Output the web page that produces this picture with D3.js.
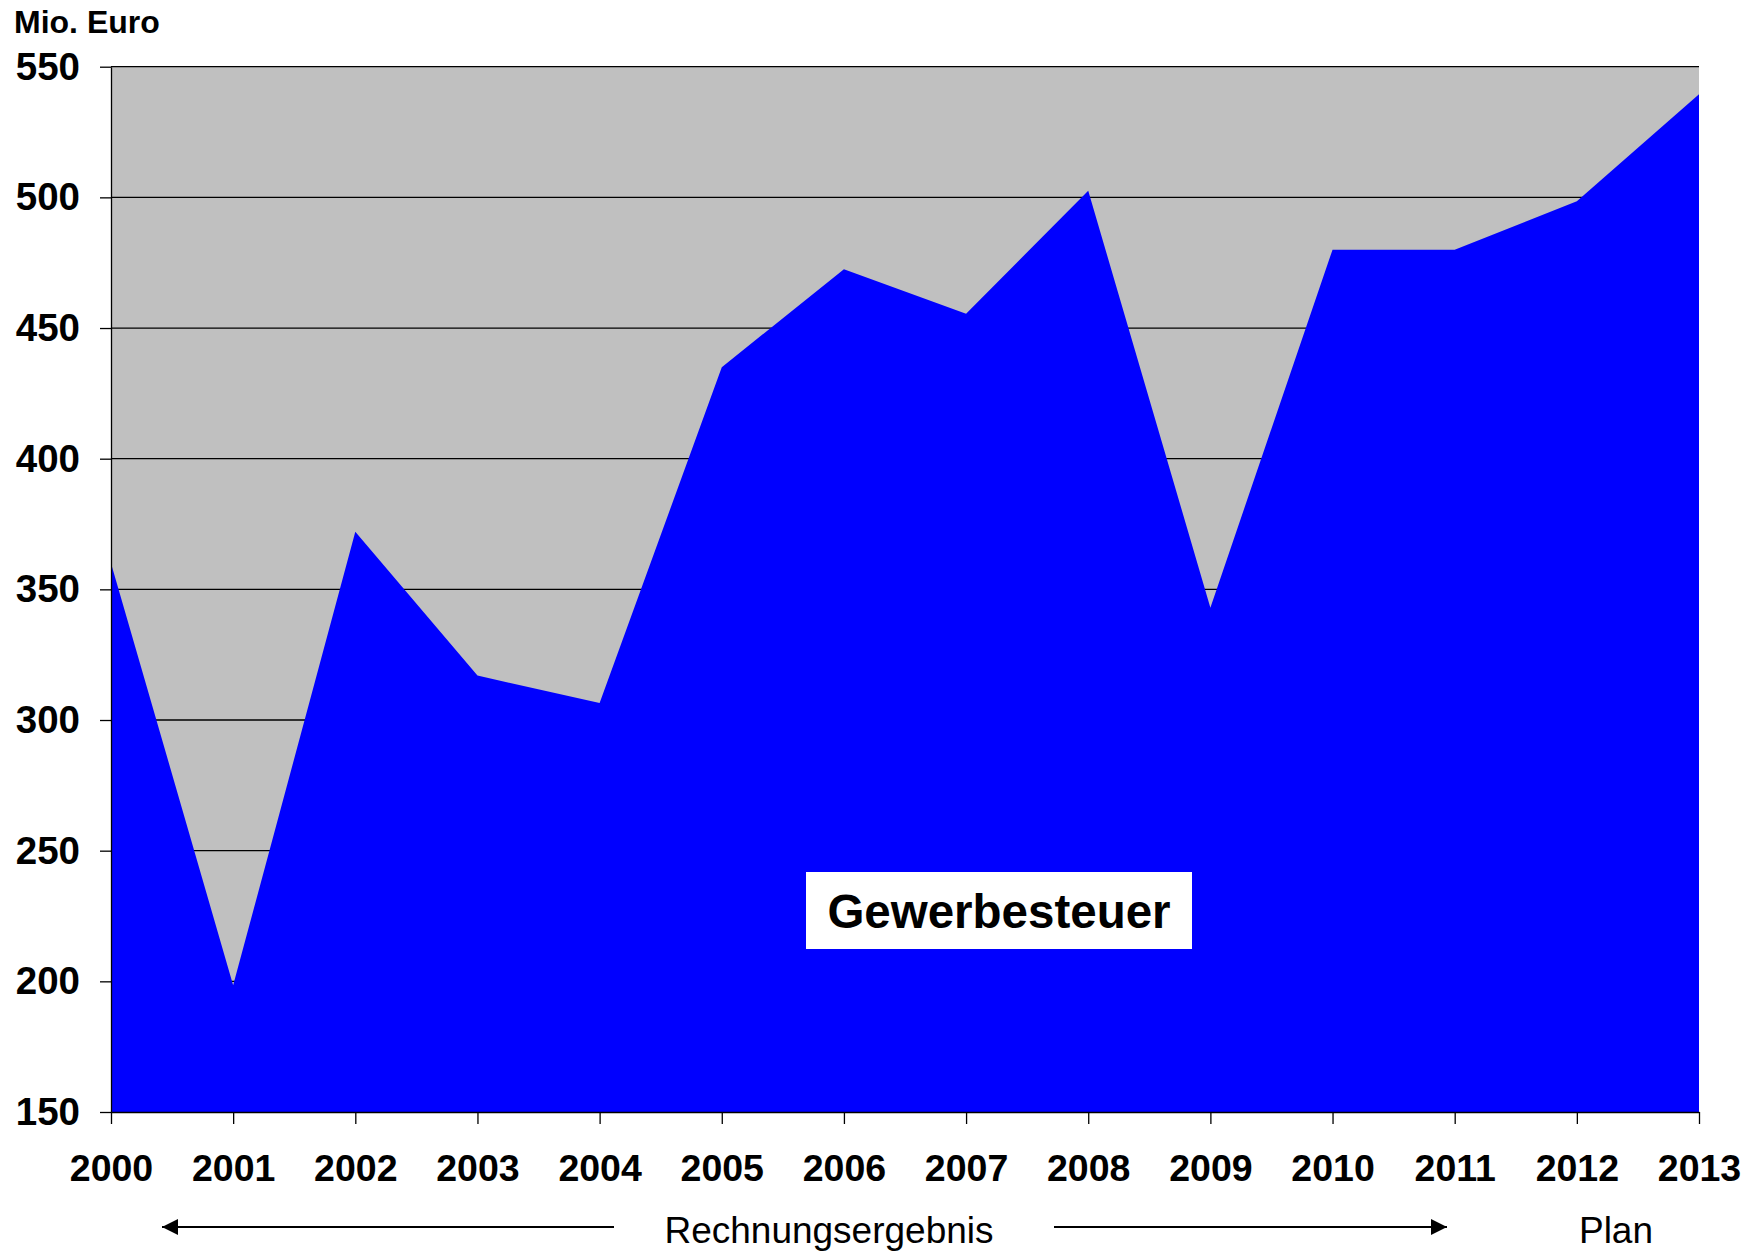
<!DOCTYPE html>
<meta charset="utf-8">
<style>
  body { margin: 0; background: #fff; }
  svg { font-family: "Liberation Sans", Arial, sans-serif; }
  .grid line { stroke: #000; stroke-width: 1.3; }
  .axis path, .axis line { stroke: #000; stroke-width: 1.3; }
  .axis text { font-weight: bold; fill: #000; }
</style>
<body>
<script src="https://d3js.org/d3.v7.min.js"></script>
<script>
  // Gewerbesteuer, Mio. Euro
  const years = [2000, 2001, 2002, 2003, 2004, 2005, 2006, 2007, 2008, 2009, 2010, 2011, 2012, 2013];
  const values = [360, 198.5, 372, 317, 306.5, 435, 472.5, 455.5, 502.5, 343, 480, 480, 498.5, 539.5];
  const yTicks = [150, 200, 250, 300, 350, 400, 450, 500, 550];

  const W = 1756, H = 1253;
  const plotL = 111, plotR = 1699, plotT = 66.7, plotB = 1112;

  const svg = d3.select("body").append("svg")
    .attr("width", W)
    .attr("height", H);

  const x = d3.scaleLinear().domain([2000, 2013]).range([plotL, plotR]);
  const y = d3.scaleLinear().domain([150, 550]).range([plotB, plotT]);

  // plot background
  svg.append("rect")
    .attr("x", plotL).attr("y", plotT)
    .attr("width", plotR - plotL).attr("height", plotB - plotT)
    .attr("fill", "#c0c0c0");

  // grid lines
  svg.append("g")
    .attr("class", "grid")
    .selectAll("line")
    .data(yTicks.slice(1))
    .join("line")
    .attr("x1", plotL).attr("x2", plotR)
    .attr("y1", d => y(d)).attr("y2", d => y(d));

  const data = years.map((yr, i) => ({ yr, v: values[i] }));

  const area = d3.area()
    .x(d => x(d.yr))
    .y0(y(150))
    .y1(d => y(d.v));

  svg.append("path")
    .datum(data)
    .attr("d", area)
    .attr("fill", "#0000ff");

  // y axis
  svg.append("g")
    .attr("class", "axis")
    .attr("transform", `translate(${plotL},0)`)
    .call(d3.axisLeft(y).tickValues(yTicks).tickSize(11).tickSizeOuter(0).tickPadding(20))
    .call(g => g.selectAll("text").style("font-size", "38.5px"));

  // x axis
  svg.append("g")
    .attr("class", "axis")
    .attr("transform", `translate(0,${plotB})`)
    .call(d3.axisBottom(x).tickValues(years).tickFormat(d3.format("d")).tickSize(12).tickSizeOuter(0))
    .call(g => g.selectAll("text")
      .attr("y", 69).attr("dy", null)
      .style("font-size", "37.5px"));

  svg.append("text")
    .attr("x", 14).attr("y", 33)
    .attr("font-size", 32).attr("font-weight", "bold")
    .text("Mio. Euro");

  // series label
  svg.append("rect")
    .attr("x", 806).attr("y", 872)
    .attr("width", 386).attr("height", 77)
    .attr("fill", "#fff");
  svg.append("text")
    .attr("x", 999).attr("y", 928)
    .attr("text-anchor", "middle")
    .attr("font-size", 47.5).attr("font-weight", "bold")
    .text("Gewerbesteuer");

  // bottom annotation
  svg.append("defs").append("marker")
    .attr("id", "arrow")
    .attr("viewBox", "0 0 10 10")
    .attr("refX", 10).attr("refY", 5)
    .attr("markerWidth", 16).attr("markerHeight", 16)
    .attr("markerUnits", "userSpaceOnUse")
    .attr("orient", "auto")
    .append("path")
    .attr("d", "M0,0L10,5L0,10Z")
    .attr("fill", "#000");

  const arrowY = 1227;
  svg.append("line")
    .attr("x1", 614).attr("x2", 162).attr("y1", arrowY).attr("y2", arrowY)
    .attr("stroke", "#000").attr("stroke-width", 2)
    .attr("marker-end", "url(#arrow)");
  svg.append("line")
    .attr("x1", 1054).attr("x2", 1447).attr("y1", arrowY).attr("y2", arrowY)
    .attr("stroke", "#000").attr("stroke-width", 2)
    .attr("marker-end", "url(#arrow)");

  svg.append("text")
    .attr("x", 829).attr("y", 1243)
    .attr("text-anchor", "middle")
    .attr("font-size", 37)
    .text("Rechnungsergebnis");
  svg.append("text")
    .attr("x", 1616).attr("y", 1243)
    .attr("text-anchor", "middle")
    .attr("font-size", 37)
    .text("Plan");
</script>
</body>
</html>
